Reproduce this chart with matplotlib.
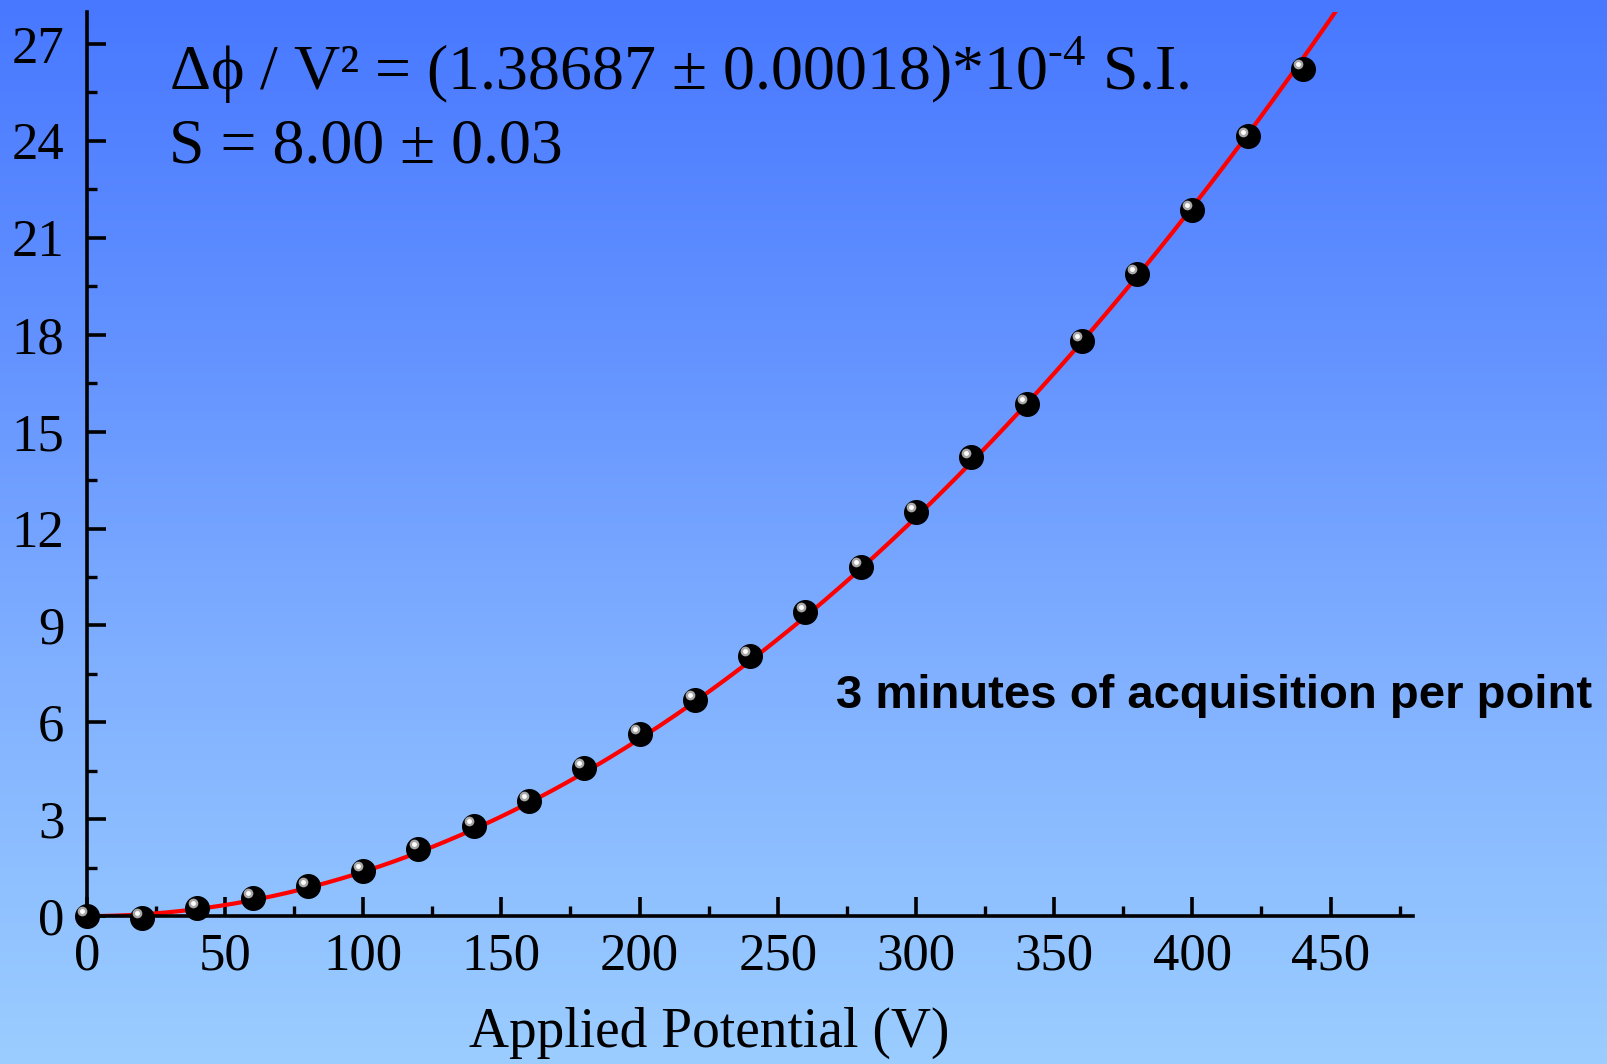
import numpy as np
import matplotlib.pyplot as plt
from matplotlib.colors import LinearSegmentedColormap
from matplotlib.transforms import ScaledTranslation

plt.rcParams['font.family'] = ['Liberation Serif', 'DejaVu Serif']
plt.rcParams['mathtext.fontset'] = 'custom'
plt.rcParams['mathtext.rm'] = 'Liberation Serif'

# Tensione applicata (V) e sfasamento misurato
volt = [0, 20, 40, 60, 80, 100, 120, 140, 160, 180, 200, 220,
        240, 260, 280, 300, 320, 340, 360, 380, 400, 420, 440]
fase = [0.0, -0.05, 0.25, 0.57, 0.92, 1.40, 2.07, 2.80, 3.57, 4.59, 5.64, 6.69,
        8.06, 9.43, 10.80, 12.52, 14.20, 15.86, 17.80, 19.87, 21.85, 24.14, 26.24]

x_ticks = [0, 50, 100, 150, 200, 250, 300, 350, 400, 450]
y_ticks = [0, 3, 6, 9, 12, 15, 18, 21, 24, 27]

V = np.array(volt, dtype=float)
P = np.array(fase)
# fit parabolico passante per l'origine: phi = k * V^2
k = np.sum(V**2 * P) / np.sum(V**4)
vv = np.linspace(0, 480, 400)

fig = plt.figure(figsize=(16.08, 10.64), dpi=100)

# sfondo sfumato
bg = fig.add_axes([0, 0, 1, 1], zorder=-10)
cmap = LinearSegmentedColormap.from_list('sfondo', [
    (0.0, (72/255, 120/255, 1.0)),
    (0.3, (97/255, 144/255, 1.0)),
    (0.65, (130/255, 178/255, 1.0)),
    (1.0, (155/255, 205/255, 1.0))])
bg.imshow(np.linspace(0, 1, 256).reshape(-1, 1), aspect='auto', cmap=cmap,
          extent=[0, 1, 0, 1], origin='upper')
bg.axis('off')

ax = fig.add_axes([0.054, 0.139, 0.825, 0.850])
ax.patch.set_alpha(0)

ax.plot(vv, k * vv**2, color='#ff0000', lw=3, zorder=2)
ax.plot(V, P, 'o', ms=17, color='black', mec='black', zorder=3, clip_on=False)
# riflesso sulle sfere
off = ScaledTranslation(-3.5/72, 3.5/72, fig.dpi_scale_trans)
ax.plot(V, P, 'o', ms=7, color='#a8a8a8', mec='none',
        transform=ax.transData + off, zorder=4, clip_on=False)
ax.plot(V, P, 'o', ms=3.5, color='white', mec='none',
        transform=ax.transData + off, zorder=5, clip_on=False)

ax.set_xlim(0, 480)
ax.set_ylim(0, 28)
ax.set_xticks(x_ticks)
ax.set_yticks(y_ticks)
ax.set_xticks(np.arange(25, 480, 50), minor=True)
ax.set_yticks(np.arange(1.5, 28, 3), minor=True)

for s in ['top', 'right']:
    ax.spines[s].set_visible(False)
for s in ['left', 'bottom']:
    ax.spines[s].set_linewidth(2.6)

ax.tick_params(which='major', direction='in', length=14, width=2.6,
               labelsize=38)
ax.tick_params(axis='x', which='major', pad=12)
ax.tick_params(axis='y', which='major', pad=16)
ax.tick_params(which='minor', direction='in', length=7, width=2.4)

ax.set_xlabel('Applied Potential (V)', fontsize=40, va='baseline')
ax.xaxis.set_label_coords(0.441, 0.016, transform=fig.transFigure)

fig.text(0.105, 0.915,
         r'Δϕ / V² = (1.38687 ± 0.00018)*10$^{\text{-4}}$ S.I.',
         fontsize=46, va='baseline')
fig.text(0.105, 0.847, 'S = 8.00 ± 0.03', fontsize=46, va='baseline')

fig.text(0.52, 0.335, '3 minutes of acquisition per point',
         family=['Liberation Sans Narrow', 'Liberation Sans', 'DejaVu Sans'],
         fontweight='bold', fontsize=34, va='baseline')

fig.savefig('out.png', dpi=100)
